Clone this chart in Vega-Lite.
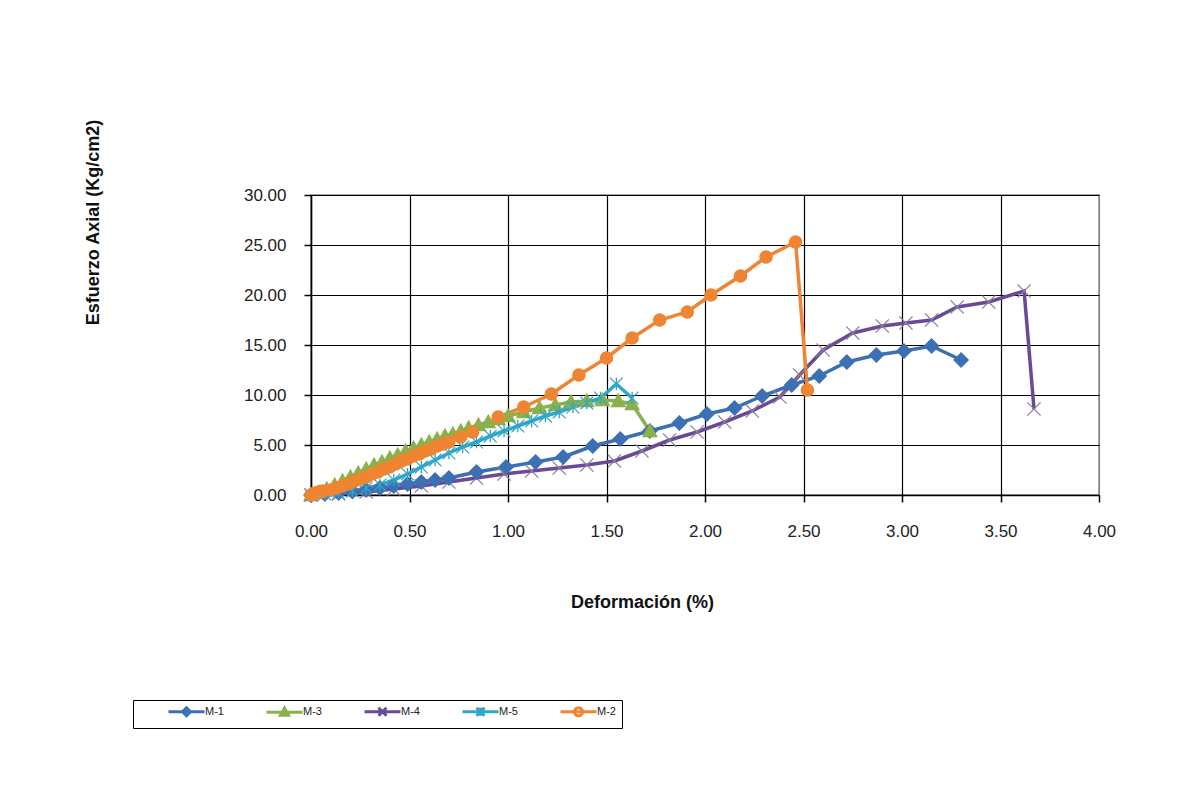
{
  "$schema": "https://vega.github.io/schema/vega-lite/v6.json",
  "width": 788,
  "height": 300,
  "padding": {"left": 83, "top": 118, "right": 5, "bottom": 5},
  "background": "white",
  "config": {
    "font": "Liberation Sans",
    "view": {"stroke": "#888888", "strokeWidth": 1.5},
    "axis": {
      "labelFont": "Liberation Sans", "labelFontSize": 17, "labelColor": "#222222", "labelFlush": false,
      "titleFont": "Liberation Sans", "titleFontSize": 18, "titleFontWeight": "bold", "titleColor": "#111111",
      "domainColor": "#000000", "domainWidth": 1.5, "tickColor": "#000000", "tickWidth": 1.5, "tickSize": 7,
      "gridColor": "#000000", "gridWidth": 1.2, "gridOpacity": 1
    }
  },
  "datasets": {
    "main": [
      {"s":"M-4","x":0.0,"y":0.0},{"s":"M-4","x":0.14,"y":0.1},{"s":"M-4","x":0.28,"y":0.3},{"s":"M-4","x":0.42,"y":0.6},{"s":"M-4","x":0.56,"y":0.9},{"s":"M-4","x":0.70,"y":1.3},{"s":"M-4","x":0.84,"y":1.7},{"s":"M-4","x":0.98,"y":2.1},{"s":"M-4","x":1.12,"y":2.4},{"s":"M-4","x":1.26,"y":2.7},{"s":"M-4","x":1.40,"y":3.0},{"s":"M-4","x":1.54,"y":3.4},{"s":"M-4","x":1.68,"y":4.4},{"s":"M-4","x":1.82,"y":5.5},{"s":"M-4","x":1.96,"y":6.3},{"s":"M-4","x":2.10,"y":7.3},{"s":"M-4","x":2.24,"y":8.4},{"s":"M-4","x":2.38,"y":9.8},{"s":"M-4","x":2.48,"y":12.0},{"s":"M-4","x":2.60,"y":14.5},{"s":"M-4","x":2.75,"y":16.2},{"s":"M-4","x":2.90,"y":16.9},{"s":"M-4","x":3.02,"y":17.2},{"s":"M-4","x":3.15,"y":17.5},{"s":"M-4","x":3.28,"y":18.8},{"s":"M-4","x":3.44,"y":19.3},{"s":"M-4","x":3.62,"y":20.4},{"s":"M-4","x":3.67,"y":8.6},
      {"s":"M-1","x":0.0,"y":0.0},{"s":"M-1","x":0.07,"y":0.1},{"s":"M-1","x":0.14,"y":0.2},{"s":"M-1","x":0.21,"y":0.35},{"s":"M-1","x":0.28,"y":0.5},{"s":"M-1","x":0.35,"y":0.7},{"s":"M-1","x":0.42,"y":0.9},{"s":"M-1","x":0.49,"y":1.1},{"s":"M-1","x":0.56,"y":1.3},{"s":"M-1","x":0.63,"y":1.5},{"s":"M-1","x":0.70,"y":1.7},{"s":"M-1","x":0.84,"y":2.3},{"s":"M-1","x":0.99,"y":2.8},{"s":"M-1","x":1.14,"y":3.3},{"s":"M-1","x":1.28,"y":3.8},{"s":"M-1","x":1.43,"y":4.9},{"s":"M-1","x":1.57,"y":5.6},{"s":"M-1","x":1.72,"y":6.4},{"s":"M-1","x":1.87,"y":7.2},{"s":"M-1","x":2.01,"y":8.1},{"s":"M-1","x":2.15,"y":8.7},{"s":"M-1","x":2.29,"y":9.9},{"s":"M-1","x":2.44,"y":11.0},{"s":"M-1","x":2.58,"y":11.9},{"s":"M-1","x":2.72,"y":13.3},{"s":"M-1","x":2.87,"y":14.0},{"s":"M-1","x":3.01,"y":14.4},{"s":"M-1","x":3.15,"y":14.9},{"s":"M-1","x":3.30,"y":13.5},
      {"s":"M-3","x":0.0,"y":0.0},{"s":"M-3","x":0.04,"y":0.3},{"s":"M-3","x":0.08,"y":0.6},{"s":"M-3","x":0.12,"y":1.0},{"s":"M-3","x":0.16,"y":1.4},{"s":"M-3","x":0.20,"y":1.8},{"s":"M-3","x":0.24,"y":2.2},{"s":"M-3","x":0.28,"y":2.6},{"s":"M-3","x":0.32,"y":3.0},{"s":"M-3","x":0.36,"y":3.3},{"s":"M-3","x":0.40,"y":3.7},{"s":"M-3","x":0.44,"y":4.0},{"s":"M-3","x":0.48,"y":4.4},{"s":"M-3","x":0.52,"y":4.7},{"s":"M-3","x":0.56,"y":5.0},{"s":"M-3","x":0.60,"y":5.3},{"s":"M-3","x":0.64,"y":5.6},{"s":"M-3","x":0.68,"y":5.9},{"s":"M-3","x":0.72,"y":6.1},{"s":"M-3","x":0.76,"y":6.4},{"s":"M-3","x":0.80,"y":6.7},{"s":"M-3","x":0.85,"y":7.0},{"s":"M-3","x":0.90,"y":7.3},{"s":"M-3","x":0.95,"y":7.6},{"s":"M-3","x":1.00,"y":7.9},{"s":"M-3","x":1.08,"y":8.3},{"s":"M-3","x":1.16,"y":8.7},{"s":"M-3","x":1.24,"y":9.0},{"s":"M-3","x":1.32,"y":9.3},{"s":"M-3","x":1.40,"y":9.4},{"s":"M-3","x":1.48,"y":9.5},{"s":"M-3","x":1.56,"y":9.4},{"s":"M-3","x":1.63,"y":9.1},{"s":"M-3","x":1.72,"y":6.4},
      {"s":"M-5","x":0.0,"y":0.0},{"s":"M-5","x":0.07,"y":0.1},{"s":"M-5","x":0.14,"y":0.2},{"s":"M-5","x":0.21,"y":0.4},{"s":"M-5","x":0.28,"y":0.7},{"s":"M-5","x":0.35,"y":1.0},{"s":"M-5","x":0.42,"y":1.5},{"s":"M-5","x":0.49,"y":2.1},{"s":"M-5","x":0.56,"y":2.8},{"s":"M-5","x":0.63,"y":3.5},{"s":"M-5","x":0.70,"y":4.2},{"s":"M-5","x":0.77,"y":4.8},{"s":"M-5","x":0.84,"y":5.3},{"s":"M-5","x":0.91,"y":5.9},{"s":"M-5","x":0.98,"y":6.4},{"s":"M-5","x":1.05,"y":6.9},{"s":"M-5","x":1.12,"y":7.4},{"s":"M-5","x":1.19,"y":7.9},{"s":"M-5","x":1.26,"y":8.3},{"s":"M-5","x":1.33,"y":8.8},{"s":"M-5","x":1.40,"y":9.2},{"s":"M-5","x":1.47,"y":9.7},{"s":"M-5","x":1.55,"y":11.1},{"s":"M-5","x":1.63,"y":9.7},
      {"s":"M-2","x":0.0,"y":0.0},{"s":"M-2","x":0.02,"y":0.2},{"s":"M-2","x":0.04,"y":0.3},{"s":"M-2","x":0.06,"y":0.4},{"s":"M-2","x":0.10,"y":0.5},{"s":"M-2","x":0.13,"y":0.7},{"s":"M-2","x":0.16,"y":0.9},{"s":"M-2","x":0.19,"y":1.1},{"s":"M-2","x":0.22,"y":1.4},{"s":"M-2","x":0.25,"y":1.6},{"s":"M-2","x":0.28,"y":1.8},{"s":"M-2","x":0.31,"y":2.1},{"s":"M-2","x":0.34,"y":2.3},{"s":"M-2","x":0.37,"y":2.6},{"s":"M-2","x":0.40,"y":2.8},{"s":"M-2","x":0.43,"y":3.1},{"s":"M-2","x":0.46,"y":3.4},{"s":"M-2","x":0.49,"y":3.6},{"s":"M-2","x":0.52,"y":3.9},{"s":"M-2","x":0.55,"y":4.1},{"s":"M-2","x":0.58,"y":4.4},{"s":"M-2","x":0.61,"y":4.6},{"s":"M-2","x":0.64,"y":4.9},{"s":"M-2","x":0.67,"y":5.1},{"s":"M-2","x":0.70,"y":5.3},{"s":"M-2","x":0.76,"y":5.8},{"s":"M-2","x":0.82,"y":6.3},{"s":"M-2","x":0.95,"y":7.8},{"s":"M-2","x":1.08,"y":8.8},{"s":"M-2","x":1.22,"y":10.1},{"s":"M-2","x":1.36,"y":12.0},{"s":"M-2","x":1.50,"y":13.7},{"s":"M-2","x":1.63,"y":15.7},{"s":"M-2","x":1.77,"y":17.5},{"s":"M-2","x":1.91,"y":18.3},{"s":"M-2","x":2.03,"y":20.0},{"s":"M-2","x":2.18,"y":21.9},{"s":"M-2","x":2.31,"y":23.8},{"s":"M-2","x":2.46,"y":25.3},{"s":"M-2","x":2.52,"y":10.5}
    ],
    "leg": [{"s":"M-1"},{"s":"M-3"},{"s":"M-4"},{"s":"M-5"},{"s":"M-2"}]
  },
  "resolve": {"scale": {"color": "independent", "shape": "independent", "stroke": "independent", "size": "independent"}},
  "layer": [
    {
      "data": {"name": "main"},
      "mark": {"type": "line", "strokeWidth": 3.5, "clip": false},
      "encoding": {
        "x": {"field": "x", "type": "quantitative", "scale": {"domain": [0, 4]},
              "axis": {"values": [0,0.5,1,1.5,2,2.5,3,3.5,4], "format": ".2f", "title": "Deformación (%)", "labelPadding": 21, "titleX": 331, "titleY": 98, "titleAnchor": null,
                       "gridColor": {"condition": {"test": "datum.value == 4", "value": "#888888"}, "value": "#000000"}}},
        "y": {"field": "y", "type": "quantitative", "scale": {"domain": [0, 30]},
              "axis": {"values": [0,5,10,15,20,25,30], "format": ".2f", "title": "Esfuerzo Axial (Kg/cm2)", "labelPadding": 18, "titleX": -209, "titleY": 27}},
        "color": {"field": "s", "type": "nominal", "legend": null,
                  "scale": {"domain": ["M-1","M-3","M-4","M-5","M-2"], "range": ["#3c70b4","#8cb14a","#6a4a96","#30a6c8","#ef8533"]}},
        "detail": {"field": "s"}
      }
    },
    {
      "data": {"name": "main"},
      "mark": {"type": "point", "filled": true, "strokeWidth": 1.3, "opacity": 1},
      "encoding": {
        "x": {"field": "x", "type": "quantitative"},
        "y": {"field": "y", "type": "quantitative"},
        "color": {"field": "s", "type": "nominal", "legend": null,
                  "scale": {"domain": ["M-1","M-3","M-4","M-5","M-2"], "range": ["#3c70b4","#8cb14a","#6a4a96","#30a6c8","#ef8533"]}},
        "stroke": {"field": "s", "type": "nominal", "legend": null,
                  "scale": {"domain": ["M-1","M-3","M-4","M-5","M-2"], "range": ["#3c70b4","#8cb14a","#8a7fa0","#30a6c8","#ef8533"]}},
        "shape": {"field": "s", "type": "nominal", "legend": null,
                  "scale": {"domain": ["M-1","M-3","M-4","M-5","M-2"],
                            "range": ["M0,-1L1,0L0,1L-1,0Z", "M0,-1L1,0.8L-1,0.8Z", "M-1,-1L1,1M-1,1L1,-1", "M-1,-1L1,1M-1,1L1,-1M0,-1L0,1", "M1,0A1,1,0,1,1,-1,0A1,1,0,1,1,1,0Z"]}},
        "size": {"field": "s", "type": "nominal", "legend": null,
                 "scale": {"domain": ["M-1","M-3","M-4","M-5","M-2"], "range": [200, 150, 200, 200, 220]}}
      }
    },
    {
      "data": {"name": "leg"},
      "mark": {"type": "point", "filled": true, "opacity": 0, "strokeWidth": 3},
      "encoding": {
        "color": {"field": "s", "type": "nominal",
                  "scale": {"domain": ["M-1","M-3","M-4","M-5","M-2"], "range": ["#3c70b4","#8cb14a","#6a4a96","#30a6c8","#ef8533"]},
                  "legend": {"title": null, "orient": "none", "legendX": -178, "legendY": 505, "direction": "horizontal",
                             "strokeColor": "#000000", "fillColor": "white", "padding": 6, "columnPadding": 13,
                             "labelFontSize": 11, "labelFont": "Liberation Sans", "labelColor": "#222222",
                             "symbolOffset": 42, "labelOffset": 13, "labelLimit": 400,
                             "labelExpr": "datum.label == 'M-2' ? datum.label + pad('', 18, '\u2003') : datum.label",
                             "symbolSize": 64, "symbolStrokeWidth": 3, "symbolOpacity": 1}},
        "stroke": {"field": "s", "type": "nominal",
                  "scale": {"domain": ["M-1","M-3","M-4","M-5","M-2"], "range": ["#3c70b4","#8cb14a","#6a4a96","#30a6c8","#ef8533"]}},
        "shape": {"field": "s", "type": "nominal",
                  "scale": {"domain": ["M-1","M-3","M-4","M-5","M-2"],
                            "range": ["M-4.5,0L4.5,0M0,-1L1,0L0,1L-1,0Z", "M-4.5,0L4.5,0M0,-1L1,0.8L-1,0.8Z", "M-4.5,0L4.5,0M-1,-1L1,1M-1,1L1,-1", "M-4.5,0L4.5,0M-1,-1L1,1M-1,1L1,-1M0,-1L0,1", "M-4.5,0L4.5,0M1,0A1,1,0,1,1,-1,0A1,1,0,1,1,1,0Z"]}}
      }
    }
  ]
}
